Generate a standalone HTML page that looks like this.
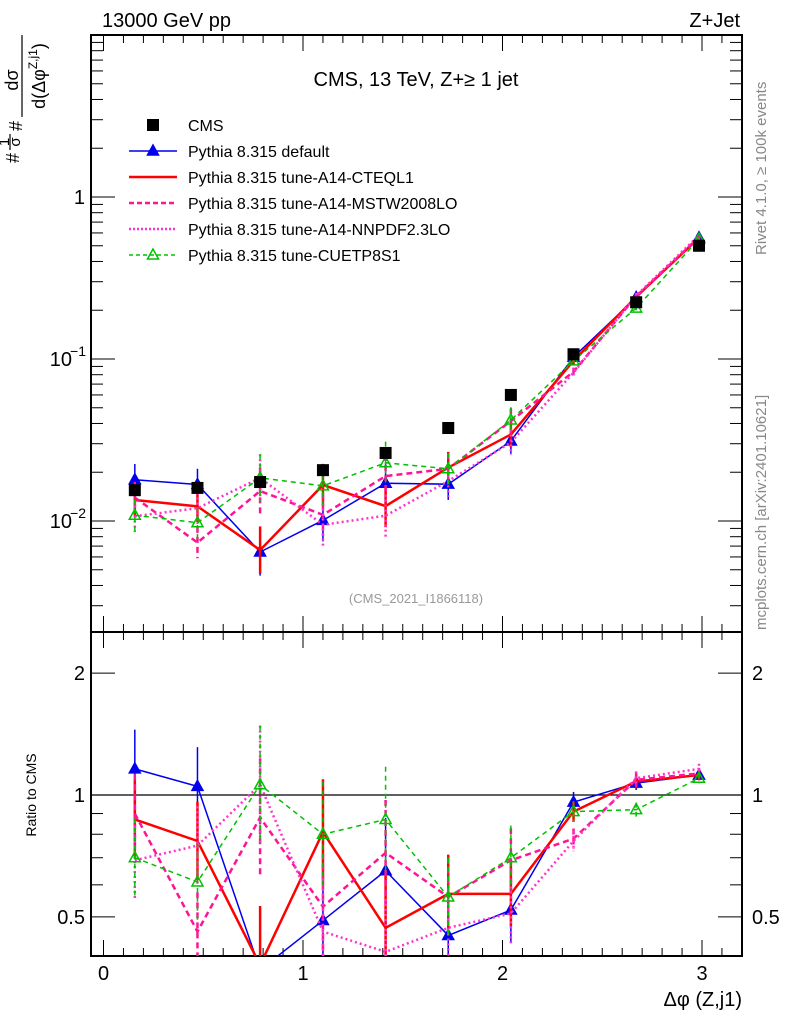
<!DOCTYPE html>
<html><head><meta charset="utf-8">
<style>
body{margin:0;background:#fff;}
svg{display:block;font-family:"Liberation Sans",Arial,sans-serif;}
</style></head>
<body>
<svg id="c" width="786" height="1024" viewBox="0 0 786 1024" xmlns="http://www.w3.org/2000/svg">
<text x="102" y="27" font-size="20">13000 GeV pp</text>
<text x="740" y="27" font-size="20" text-anchor="end">Z+Jet</text>
<text x="416" y="86" font-size="20" text-anchor="middle">CMS, 13 TeV, Z+≥ 1 jet</text>
<text x="416" y="603" font-size="13" fill="#999" text-anchor="middle">(CMS_2021_I1866118)</text>
<text transform="translate(766,255) rotate(-90)" font-size="15" fill="#888">Rivet 4.1.0, ≥ 100k events</text>
<text transform="translate(766,630) rotate(-90)" font-size="15" fill="#888">mcplots.cern.ch [arXiv:2401.10621]</text>
<g>
<text transform="translate(19,163) rotate(-90)" font-size="18">#</text>
<text transform="translate(9,142) rotate(-90)" font-size="15" text-anchor="middle">1</text>
<line x1="10" y1="134" x2="10" y2="150" stroke="#000" stroke-width="1.2"/>
<text transform="translate(20,142) rotate(-90)" font-size="15" text-anchor="middle">σ</text>
<text transform="translate(22,131) rotate(-90)" font-size="18">#</text>
<text transform="translate(18,80) rotate(-90)" text-anchor="middle" font-size="18">dσ</text>
<line x1="22" y1="35" x2="22" y2="117" stroke="#000" stroke-width="1.2"/>
<text transform="translate(45,76) rotate(-90)" text-anchor="middle" font-size="18">d(Δφ<tspan font-size="12" dy="-8">Z,j1</tspan><tspan dy="8">)</tspan></text>
</g>
<text transform="translate(36,795) rotate(-90)" font-size="14" text-anchor="middle">Ratio to CMS</text>
<text x="742" y="1006" font-size="20" text-anchor="end">Δφ (Z,j1)</text>
<g id="g"></g>
</svg>
<script>
const binCenters=[0.157,0.471,0.785,1.100,1.414,1.728,2.042,2.356,2.670,2.985];
const cmsValues=[0.0155,0.0160,0.0174,0.0206,0.0263,0.0375,0.060,0.107,0.224,0.50];
const ratioDefault=[1.16,1.05,0.37,0.49,0.65,0.45,0.52,0.96,1.07,1.12];
const ratioCTEQL1=[0.87,0.77,0.38,0.81,0.47,0.57,0.57,0.91,1.08,1.12];
const ratioMSTW=[0.90,0.46,0.88,0.53,0.72,0.56,0.69,0.78,1.09,1.13];
const ratioNNPDF=[0.69,0.75,1.06,0.46,0.41,0.47,0.51,0.77,1.10,1.16];
const ratioCUETP8S1=[0.70,0.61,1.06,0.80,0.87,0.56,0.70,0.91,0.92,1.10];
const relErrors=[0.25,0.25,0.4,0.35,0.35,0.25,0.2,0.06,0.04,0.03];
const cmsRelErrors=[0.04,0.04,0.04,0.04,0.04,0.03,0.03,0.03,0.03,0.03];
const xTicks=[0,1,2,3];
const ratioTicks=[0.5,1,2];

const NS="http://www.w3.org/2000/svg";
const g=document.getElementById('g');
const L=91,R=742,MT=35,MB=632,RB=956;
const X=v=>103.5+v*199.5;
const Y=v=>521-(Math.log10(v)+2)*162;
const YR=v=>795-Math.log10(v)*405;
function el(t,a,p){const e=document.createElementNS(NS,t);for(const k in a)e.setAttribute(k,a[k]);(p||g).appendChild(e);return e;}

const f1=el('rect',{x:L,y:MT,width:R-L,height:MB-MT,fill:'none',stroke:'#000','stroke-width':2});


const f2=el('rect',{x:L,y:MB,width:R-L,height:RB-MB,fill:'none',stroke:'#000','stroke-width':2});


for(let v=0;v<=3.2;v+=0.1){const x=X(v);if(x<L||x>R)continue;const major=Math.abs(v-Math.round(v))<1e-6;const len=major?16:8;
 for(const [yb,yt] of [[MB,MT],[RB,MB]]){el('line',{x1:x,y1:yb,x2:x,y2:yb-len,stroke:'#000','stroke-width':1});el('line',{x1:x,y1:yt,x2:x,y2:yt+len,stroke:'#000','stroke-width':1});}}
xTicks.forEach(v=>{const t=el('text',{x:X(v),y:980,'font-size':20,'text-anchor':'middle'});t.textContent=v;
 
 });
for(let d=-3;d<=1;d++)for(let m=1;m<10;m++){const v=m*Math.pow(10,d);const y=Y(v);if(y<MT||y>MB)continue;const len=m==1?24:12;
 el('line',{x1:L,y1:y,x2:L+len,y2:y,stroke:'#000','stroke-width':1});el('line',{x1:R,y1:y,x2:R-len,y2:y,stroke:'#000','stroke-width':1});}
[[0.01,"10","−2"],[0.1,"10","−1"],[1,"1",""]].forEach(([v,b,e])=>{const t=el('text',{x:e?72:85,y:Y(v)+7,'font-size':20,'text-anchor':'end'});t.textContent=b;
 
 
 if(e){const s=el('text',{x:86,y:Y(v)-3,'font-size':14,'text-anchor':'end'});s.textContent=e;}});
for(let d=-1;d<=0;d++)for(let m=1;m<10;m++){const v=m*Math.pow(10,d);const y=YR(v);if(y<MB||y>RB)continue;const len=(v==1||v==0.5||v==2)?24:12;
 el('line',{x1:L,y1:y,x2:L+len,y2:y,stroke:'#000','stroke-width':1});el('line',{x1:R,y1:y,x2:R-len,y2:y,stroke:'#000','stroke-width':1});}
ratioTicks.forEach(v=>{for(const [x,a] of [[85,'end'],[752,'start']]){const t=el('text',{x:x,y:YR(v)+7,'font-size':20,'text-anchor':a});t.textContent=v;
 
 }});
el('line',{x1:L,y1:YR(1),x2:R,y2:YR(1),stroke:'#000','stroke-width':1.2});

const series=[
 {name:'default',r:ratioDefault,c:'#0000ee',w:1.5,d:'',m:'tri'},
 {name:'cteql1',r:ratioCTEQL1,c:'#ff0000',w:2.5,d:'',m:''},
 {name:'mstw',r:ratioMSTW,c:'#ff1493',w:2.5,d:'6,4',m:''},
 {name:'nnpdf',r:ratioNNPDF,c:'#ff33cc',w:2.5,d:'2,3',m:''},
 {name:'cuetp8s1',r:ratioCUETP8S1,c:'#00c000',w:1.5,d:'5,4',m:'otri'}];
const clipM=el('clipPath',{id:'cm'});el('rect',{x:L,y:MT,width:R-L,height:MB-MT},clipM);
const clipR=el('clipPath',{id:'cr'});el('rect',{x:L,y:MB,width:R-L,height:RB-MB},clipR);
const gm=el('g',{'clip-path':'url(#cm)'}),gr=el('g',{'clip-path':'url(#cr)'});
function tri(p,x,y,c,open){return el('polygon',{points:`${x},${y-6} ${x-5.5},${y+4} ${x+5.5},${y+4}`,fill:open?'none':c,stroke:c,'stroke-width':1.5},p);}
series.forEach(s=>{
 const mainV=s.r.map((r,i)=>r*cmsValues[i]);
 [[gm,mainV,Y],[gr,s.r,YR]].forEach(([p,vals,yf])=>{
  vals.forEach((v,i)=>{const e=relErrors[i];const x=binCenters[i];
   const b=el('line',{x1:X(x),y1:yf(v*(1+e)),x2:X(x),y2:yf(v/(1+e)),stroke:s.c,'stroke-width':s.w,'stroke-dasharray':s.d},p);
   
   });
  const l=el('polyline',{points:vals.map((v,i)=>X(binCenters[i])+','+yf(v)).join(' '),fill:'none',stroke:s.c,'stroke-width':s.w,'stroke-dasharray':s.d},p);
  
  
  if(s.m)vals.forEach((v,i)=>{const t=tri(p,X(binCenters[i]),yf(v),s.c,s.m=='otri');
   
   });
 });
});
cmsValues.forEach((v,i)=>{const x=X(binCenters[i]);
 el('line',{x1:x,y1:Y(v*(1+cmsRelErrors[i])),x2:x,y2:Y(v/(1+cmsRelErrors[i])),stroke:'#000'},gm);
 const r=el('rect',{x:x-6,y:Y(v)-6,width:12,height:12,fill:'#000'},gm);
 
 });
const leg=[['CMS','#000','','sq',1],['Pythia 8.315 default','#0000ee','','tri',1.5],['Pythia 8.315 tune-A14-CTEQL1','#ff0000','','',2.5],
 ['Pythia 8.315 tune-A14-MSTW2008LO','#ff1493','5,3','',2.5],['Pythia 8.315 tune-A14-NNPDF2.3LO','#ff33cc','2,2','',2.5],['Pythia 8.315 tune-CUETP8S1','#00c000','4,3','otri',1.5]];
leg.forEach((e,i)=>{const y=125+i*26;const lg=el('g',{});
 
 
 if(e[3]=='sq')el('rect',{x:147,y:y-6,width:12,height:12,fill:'#000'},lg);
 else{el('line',{x1:129,y1:y,x2:177,y2:y,stroke:e[1],'stroke-width':e[4],'stroke-dasharray':e[2]},lg);if(e[3])tri(lg,153,y,e[1],e[3]=='otri');}
 const t=el('text',{x:188,y:y+6,'font-size':16},lg);t.textContent=e[0];});
</script>
</body></html>
